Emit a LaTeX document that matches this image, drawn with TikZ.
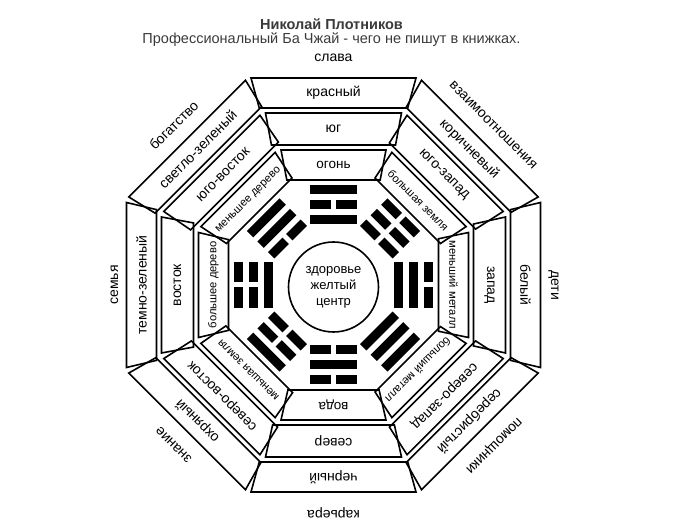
\documentclass[tikz,border=0pt]{standalone}
\usepackage{fontspec}
\setmainfont{Liberation Sans}
\usepackage{tikz}
\usetikzlibrary{shapes.geometric}
\definecolor{titlegray}{HTML}{3A3A3A}

\begin{document}
\begin{tikzpicture}[x=1pt, y=1pt,
    band/.style={
        trapezium,
        trapezium left angle=112.5,
        trapezium right angle=112.5,
        trapezium stretches body,
        draw=black,
        line width=1.6pt,
        inner xsep=-6pt,
        font=\fontsize{14}{16}\selectfont,
    },
    outerband/.style={band, minimum width=165pt, minimum height=30pt},
    midband/.style={band, minimum width=136pt, minimum height=32pt},
    innerband/.style={band, minimum width=105pt, minimum height=30pt,
        font=\fontsize{13.5}{15}\selectfont},
    longtext/.style={font=\fontsize{11.2}{13}\selectfont},
    area/.style={font=\fontsize{14}{16}\selectfont},
    title/.style={text=titlegray, font=\fontsize{14.5}{16}\selectfont}
]
\useasboundingbox (-333.5,-244) rectangle (354.5,285);

\node[title, font=\fontsize{14.5}{16}\selectfont\bfseries] (Author) at (-2,261) {Николай Плотников};
\node[title] (Subtitle) at (-2,245) {Профессиональный Ба Чжай - чего не пишут в книжках.};

\node[draw, circle, line width=1.6pt, minimum size=90pt, align=center,
      font=\fontsize{13}{16}\selectfont] (Health) at (0,-2) {здоровье\\желтый\\центр};

% top
\node[area] (Fame) at (90:227) {слава};
\node[outerband] (Red) at (90:192) {красный};
\node[midband] (South) at (90:156) {юг};
\node[innerband] (Fire) at (90:120) {огонь};
% upper right
\node[area, rotate=-45] (Relations) at (45:226) {взаимоотношения};
\node[outerband, rotate=-45] (Brown) at (45:192) {коричневый};
\node[midband, rotate=-45] (SW) at (45:156) {юго-запад};
\node[innerband, longtext, rotate=-45] (BigEarth) at (45:120) {большая земля};
% right
\node[area, rotate=-90] (Children) at (0:220) {дети};
\node[outerband, rotate=-90] (White) at (0:192) {белый};
\node[midband, rotate=-90] (West) at (0:156) {запад};
\node[innerband, longtext, rotate=-90] (SmallMetal) at (0:120) {меньший металл};
% lower right
\node[area, rotate=-135] (Helpers) at (-45:226) {помощники};
\node[outerband, rotate=-135] (Silver) at (-45:192) {серебристый};
\node[midband, rotate=-135] (NW) at (-45:156) {северо-запад};
\node[innerband, longtext, rotate=-135] (BigMetal) at (-45:120) {больший металл};
% bottom
\node[area, rotate=180] (Career) at (-90:228) {карьера};
\node[outerband, rotate=180] (Black) at (-90:192) {черный};
\node[midband, rotate=180] (North) at (-90:156) {север};
\node[innerband, rotate=180] (Water) at (-90:120) {вода};
% lower left
\node[area, rotate=135] (Knowledge) at (-135:226) {знание};
\node[outerband, rotate=135] (Ochre) at (-135:192) {охряный};
\node[midband, rotate=135] (NE) at (-135:156) {северо-восток};
\node[innerband, longtext, rotate=135] (SmallEarth) at (-135:120) {меньшая земля};
% left
\node[area, rotate=90] (Family) at (180:219) {семья};
\node[outerband, rotate=90] (DarkGreen) at (180:192) {темно-зеленый};
\node[midband, rotate=90] (East) at (180:156) {восток};
\node[innerband, longtext, rotate=90] (BigWood) at (180:120) {большее дерево};
% upper left
\node[area, rotate=45] (Wealth) at (135:226) {богатство};
\node[outerband, rotate=45] (LightGreen) at (135:192) {светло-зеленый};
\node[midband, rotate=45] (SE) at (135:156) {юго-восток};
\node[innerband, longtext, rotate=45] (SmallWood) at (135:120) {меньшее дерево};

% trigrams
\begin{scope}[rotate=0]
\fill (-23,60.5) rectangle (23,69.5);
\fill (-23,75.5) rectangle (-2.5,84.5);
\fill (2.5,75.5) rectangle (23,84.5);
\fill (-23,90.5) rectangle (23,99.5);
\end{scope}
\begin{scope}[rotate=-45]
\fill (-23,60.5) rectangle (-2.5,69.5);
\fill (2.5,60.5) rectangle (23,69.5);
\fill (-23,75.5) rectangle (-2.5,84.5);
\fill (2.5,75.5) rectangle (23,84.5);
\fill (-23,90.5) rectangle (-2.5,99.5);
\fill (2.5,90.5) rectangle (23,99.5);
\end{scope}
\begin{scope}[rotate=-90]
\fill (-23,60.5) rectangle (23,69.5);
\fill (-23,75.5) rectangle (23,84.5);
\fill (-23,90.5) rectangle (-2.5,99.5);
\fill (2.5,90.5) rectangle (23,99.5);
\end{scope}
\begin{scope}[rotate=-135]
\fill (-23,60.5) rectangle (23,69.5);
\fill (-23,75.5) rectangle (23,84.5);
\fill (-23,90.5) rectangle (23,99.5);
\end{scope}
\begin{scope}[rotate=180]
\fill (-23,60.5) rectangle (-2.5,69.5);
\fill (2.5,60.5) rectangle (23,69.5);
\fill (-23,75.5) rectangle (23,84.5);
\fill (-23,90.5) rectangle (-2.5,99.5);
\fill (2.5,90.5) rectangle (23,99.5);
\end{scope}
\begin{scope}[rotate=135]
\fill (-23,60.5) rectangle (-2.5,69.5);
\fill (2.5,60.5) rectangle (23,69.5);
\fill (-23,75.5) rectangle (-2.5,84.5);
\fill (2.5,75.5) rectangle (23,84.5);
\fill (-23,90.5) rectangle (23,99.5);
\end{scope}
\begin{scope}[rotate=90]
\fill (-23,60.5) rectangle (23,69.5);
\fill (-23,75.5) rectangle (-2.5,84.5);
\fill (2.5,75.5) rectangle (23,84.5);
\fill (-23,90.5) rectangle (-2.5,99.5);
\fill (2.5,90.5) rectangle (23,99.5);
\end{scope}
\begin{scope}[rotate=45]
\fill (-23,60.5) rectangle (-2.5,69.5);
\fill (2.5,60.5) rectangle (23,69.5);
\fill (-23,75.5) rectangle (23,84.5);
\fill (-23,90.5) rectangle (23,99.5);
\end{scope}
\end{tikzpicture}
\end{document}
